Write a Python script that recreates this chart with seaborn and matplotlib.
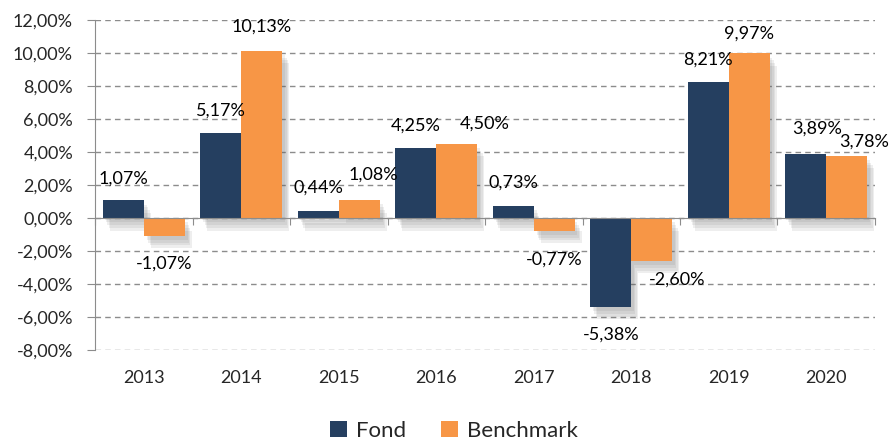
import pandas as pd
import matplotlib.pyplot as plt
import matplotlib.patheffects as pe
import matplotlib.transforms as mtransforms
import seaborn as sns

years = ['2013', '2014', '2015', '2016', '2017', '2018', '2019', '2020']
fond = [1.07, 5.17, 0.44, 4.25, 0.73, -5.38, 8.21, 3.89]
benchmark = [-1.07, 10.13, 1.08, 4.50, -0.77, -2.60, 9.97, 3.78]
series = ['Fond', 'Benchmark']
colors = ['#253F60', '#F79646']

# label nudges (pixels) copied from the original layout, per series
label_offsets = {
    'Fond': [(0, 22), (0, 22), (0, 23), (0, 22), (0, 23), (0, -28), (0, 23), (11, 25)],
    'Benchmark': [(0, -28), (0, 24), (14, 26), (28, 20), (0, -29), (25, -19), (0, 20), (18, 14)],
}

df = pd.DataFrame({
    'Year': years * 2,
    'Series': ['Fond'] * len(years) + ['Benchmark'] * len(years),
    'Value': fond + benchmark,
})

sns.set_style("white")
plt.rcParams['font.family'] = ['Lato', 'DejaVu Sans']

fig = plt.figure(figsize=(8.9, 4.41), dpi=100)
ax = fig.add_axes([0.107, 0.206, 0.876, 0.749])

sns.barplot(data=df, x='Year', y='Value', hue='Series', hue_order=series,
            palette=colors, width=0.84, gap=0, saturation=1, linewidth=0, ax=ax)

# soft shadow under the bars
shadow = [pe.SimplePatchShadow(offset=(2 + k, -3 - 2 * k), shadow_rgbFace='#606060', alpha=0.10)
          for k in range(4)] + [pe.Normal()]
for name, container in zip(series, ax.containers):
    for bar, (dx, dy) in zip(container, label_offsets[name]):
        bar.set_path_effects(shadow)
        h = bar.get_height()
        ax.annotate(f"{h:.2f}%".replace('.', ','),
                    (bar.get_x() + bar.get_width() / 2, h),
                    xytext=(dx, dy), textcoords='offset pixels',
                    ha='center', va='center', fontsize=13, color='black')

ax.set_ylim(-8, 12)
ax.set_yticks(range(-8, 13, 2))
ax.set_yticklabels([f"{v:.2f}%".replace('.', ',') for v in range(-8, 13, 2)], fontsize=13)
ax.yaxis.grid(True, linestyle=(0, (4, 3)), color='#8c8c8c', linewidth=1)
ax.set_axisbelow(True)

ax.set_xlim(-0.5, len(years) - 0.5)
ax.spines['top'].set_visible(False)
ax.spines['right'].set_visible(False)
ax.spines['left'].set_color('#8c8c8c')
ax.spines['bottom'].set_position(('data', 0))
ax.spines['bottom'].set_color('#8c8c8c')
ax.set_xticks([i - 0.5 for i in range(len(years) + 1)])
ax.set_xticklabels([])
ax.tick_params(axis='x', direction='out', length=5, color='#8c8c8c', bottom=True)
ax.tick_params(axis='y', direction='out', length=6, color='#8c8c8c', left=True, pad=10)

trans = mtransforms.blended_transform_factory(ax.transData, ax.transAxes)
for i, y in enumerate(years):
    ax.text(i, -0.085, y, transform=trans, ha='center', va='center', fontsize=13)

ax.set_xlabel('')
ax.set_ylabel('')
handles, lbls = ax.get_legend_handles_labels()
ax.legend(handles, lbls, loc='center', bbox_to_anchor=(0.51, 0.023), bbox_transform=fig.transFigure,
          ncol=2, frameon=False, fontsize=16, handlelength=0.75, handleheight=0.75,
          handletextpad=0.4, columnspacing=1.6)

fig.savefig('out.png', dpi=100)
